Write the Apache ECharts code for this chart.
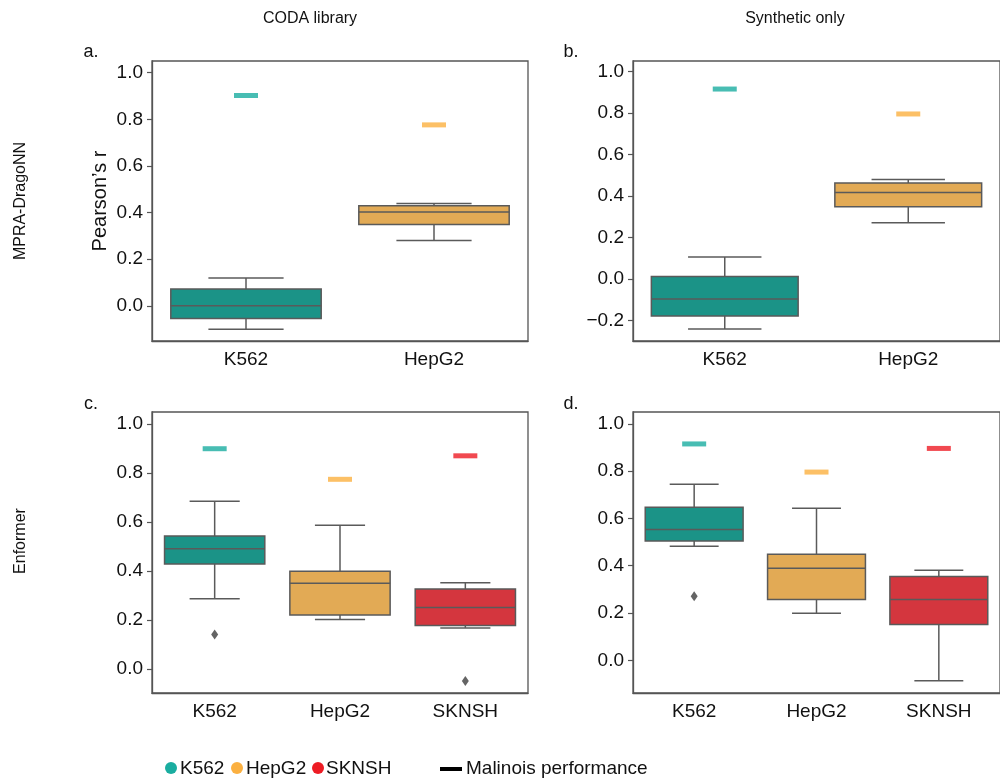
<!DOCTYPE html>
<html>
<head>
<meta charset="utf-8">
<script src="https://cdn.jsdelivr.net/npm/echarts@6/dist/echarts.min.js"></script>
<style>
  html, body { margin: 0; padding: 0; background: #fff; }
  #chart { width: 1000px; height: 778px; }
</style>
</head>
<body>
<div id="chart"></div>
<script>
// Cell lines shown on the x axes
const cellLines = ['K562', 'HepG2', 'SKNSH'];

// Five-number summaries per cell line: [min, q1, median, q3, max]
const dragoCodaBox  = [[-0.101, -0.054, 0.000, 0.072, 0.119],
                       [ 0.280,  0.349, 0.402, 0.429, 0.439]];
const dragoSynthBox = [[-0.240, -0.178, -0.096, 0.013, 0.106],
                       [ 0.271,  0.348, 0.417, 0.463, 0.479]];
const enfCodaBox    = [[ 0.287,  0.429, 0.491, 0.543, 0.685],
                       [ 0.202,  0.221, 0.350, 0.399, 0.587],
                       [ 0.168,  0.178, 0.251, 0.327, 0.352]];
const enfSynthBox   = [[ 0.482,  0.505, 0.553, 0.647, 0.745],
                       [ 0.199,  0.257, 0.389, 0.449, 0.643],
                       [-0.086,  0.152, 0.257, 0.355, 0.381]];

// Outlier points: [cell line index, value]
const dragoCodaOut  = [];
const dragoSynthOut = [];
const enfCodaOut    = [[0, 0.141], [2, -0.049]];
const enfSynthOut   = [[0, 0.271]];

// Malinois performance per cell line
const dragoCodaMal  = [0.902, 0.776];
const dragoSynthMal = [0.915, 0.795];
const enfCodaMal    = [0.900, 0.775, 0.871];
const enfSynthMal   = [0.915, 0.796, 0.896];

// Tick values on the y axes
const yTicks = [-0.2, 0.0, 0.2, 0.4, 0.6, 0.8, 1.0];

const boxColors = ['#1b9387', '#e2aa55', '#d4363e'];
const malColors = ['#1aada0', '#fbb040', '#ed1c24'];
const edgeColor = '#5a5a5a';
const FONT = '"Liberation Sans", Arial, Helvetica, sans-serif';

const panels = [
  { box: dragoCodaBox,  out: dragoCodaOut,  mal: dragoCodaMal,  yMin: -0.151, yMax: 1.05,
    grid: { left: 152, top: 61, width: 376, height: 280 } },
  { box: dragoSynthBox, out: dragoSynthOut, mal: dragoSynthMal, yMin: -0.298, yMax: 1.05,
    grid: { left: 633, top: 61, width: 376, height: 280 } },
  { box: enfCodaBox,    out: enfCodaOut,    mal: enfCodaMal,    yMin: -0.098, yMax: 1.05,
    grid: { left: 152, top: 412, width: 376, height: 281 } },
  { box: enfSynthBox,   out: enfSynthOut,   mal: enfSynthMal,   yMin: -0.138, yMax: 1.05,
    grid: { left: 633, top: 412, width: 376, height: 281 } }
];

function fmt(v) {
  const r = Math.round(v * 10) / 10;
  return (r < 0 ? '\u2212' : '') + Math.abs(r).toFixed(1);
}

// Box with whiskers whose caps are half the box width
function renderBox(params, api) {
  const ci = api.value(0);
  const band = api.size([1, 0])[0];
  const w = band * 0.8;
  const cap = w / 2;
  const pMin = api.coord([ci, api.value(1)]);
  const pQ1  = api.coord([ci, api.value(2)]);
  const pMed = api.coord([ci, api.value(3)]);
  const pQ3  = api.coord([ci, api.value(4)]);
  const pMax = api.coord([ci, api.value(5)]);
  const cx = pMed[0];
  const lineStyle = { stroke: edgeColor, lineWidth: 1.5, fill: null };
  return {
    type: 'group',
    children: [
      { type: 'line', shape: { x1: cx, y1: pMax[1], x2: cx, y2: pQ3[1] }, style: lineStyle },
      { type: 'line', shape: { x1: cx, y1: pQ1[1], x2: cx, y2: pMin[1] }, style: lineStyle },
      { type: 'line', shape: { x1: cx - cap / 2, y1: pMax[1], x2: cx + cap / 2, y2: pMax[1] }, style: lineStyle },
      { type: 'line', shape: { x1: cx - cap / 2, y1: pMin[1], x2: cx + cap / 2, y2: pMin[1] }, style: lineStyle },
      { type: 'rect', shape: { x: cx - w / 2, y: pQ3[1], width: w, height: pQ1[1] - pQ3[1] },
        style: { fill: boxColors[ci], stroke: edgeColor, lineWidth: 1.5 } },
      { type: 'line', shape: { x1: cx - w / 2, y1: pMed[1], x2: cx + w / 2, y2: pMed[1] }, style: lineStyle }
    ]
  };
}

const grid = [], xAxis = [], yAxis = [], series = [];
panels.forEach((p, i) => {
  grid.push(Object.assign({ show: true, borderColor: '#555', borderWidth: 1.3, backgroundColor: '#fff' }, p.grid));
  xAxis.push({
    type: 'category', gridIndex: i, data: cellLines.slice(0, p.box.length),
    axisLine: { onZero: false, lineStyle: { color: '#555', width: 1.3 } },
    axisTick: { alignWithLabel: true, length: 5, lineStyle: { color: '#555', width: 1.2 } },
    axisLabel: { fontSize: 19, color: '#111', margin: 9, fontFamily: FONT },
    splitLine: { show: false }
  });
  const ticks = yTicks.filter(t => t >= p.yMin && t <= p.yMax);
  yAxis.push({
    type: 'value', gridIndex: i, min: p.yMin, max: p.yMax,
    name: i === 0 ? 'Pearson\u2019s r' : '',
    nameLocation: 'middle', nameGap: 42,
    nameTextStyle: { fontSize: 20, color: '#111', fontFamily: FONT },
    axisLine: { show: true, onZero: false, lineStyle: { color: '#555', width: 1.3 } },
    axisTick: { show: true, length: 5, customValues: ticks, lineStyle: { color: '#555', width: 1.2 } },
    axisLabel: { fontSize: 19, color: '#111', margin: 9, fontFamily: FONT, customValues: ticks, formatter: fmt },
    splitLine: { show: false }
  });
  series.push({
    type: 'custom', xAxisIndex: i, yAxisIndex: i,
    renderItem: renderBox,
    encode: { x: 0, y: [1, 2, 3, 4, 5] },
    data: p.box.map((b, ci) => [ci].concat(b)),
    z: 2
  });
  series.push({
    type: 'scatter', xAxisIndex: i, yAxisIndex: i,
    symbol: 'rect', symbolSize: [24, 5],
    data: p.mal.map((v, ci) => ({ value: [ci, v], itemStyle: { color: malColors[ci] } })),
    z: 3
  });
  series.push({
    type: 'scatter', xAxisIndex: i, yAxisIndex: i,
    symbol: 'diamond', symbolSize: [7, 10],
    itemStyle: { color: '#3d3d3d' },
    data: p.out,
    z: 3
  });
});

const textStyle = (t, size) => ({ text: t, fill: '#111', font: size + 'px ' + FONT, align: 'center', verticalAlign: 'middle' });
const legendText = (t) => ({ text: t, fill: '#111', font: '19px ' + FONT, verticalAlign: 'middle' });

const graphic = [
  { type: 'text', x: 310, y: 19, style: textStyle('CODA library', 16) },
  { type: 'text', x: 795, y: 19, style: textStyle('Synthetic only', 16) },
  { type: 'text', x: 21, y: 201, rotation: Math.PI / 2, style: textStyle('MPRA-DragoNN', 16) },
  { type: 'text', x: 21, y: 541, rotation: Math.PI / 2, style: textStyle('Enformer', 16) },
  { type: 'text', x: 91, y: 52, style: textStyle('a.', 18) },
  { type: 'text', x: 571, y: 52, style: textStyle('b.', 18) },
  { type: 'text', x: 91, y: 404, style: textStyle('c.', 18) },
  { type: 'text', x: 571, y: 404, style: textStyle('d.', 18) },
  // legend
  { type: 'circle', shape: { cx: 171, cy: 768, r: 6 }, style: { fill: malColors[0] } },
  { type: 'text', x: 180, y: 769, style: legendText(cellLines[0]) },
  { type: 'circle', shape: { cx: 237, cy: 768, r: 6 }, style: { fill: malColors[1] } },
  { type: 'text', x: 246, y: 769, style: legendText(cellLines[1]) },
  { type: 'circle', shape: { cx: 318, cy: 768, r: 6 }, style: { fill: malColors[2] } },
  { type: 'text', x: 326, y: 769, style: legendText(cellLines[2]) },
  { type: 'rect', shape: { x: 440, y: 767, width: 22, height: 4 }, style: { fill: '#000' } },
  { type: 'text', x: 466, y: 769, style: legendText('Malinois performance') }
];

const chart = echarts.init(document.getElementById('chart'), null, { renderer: 'canvas' });
chart.setOption({
  animation: false,
  backgroundColor: '#fff',
  grid, xAxis, yAxis, series, graphic
});
</script>
</body>
</html>
